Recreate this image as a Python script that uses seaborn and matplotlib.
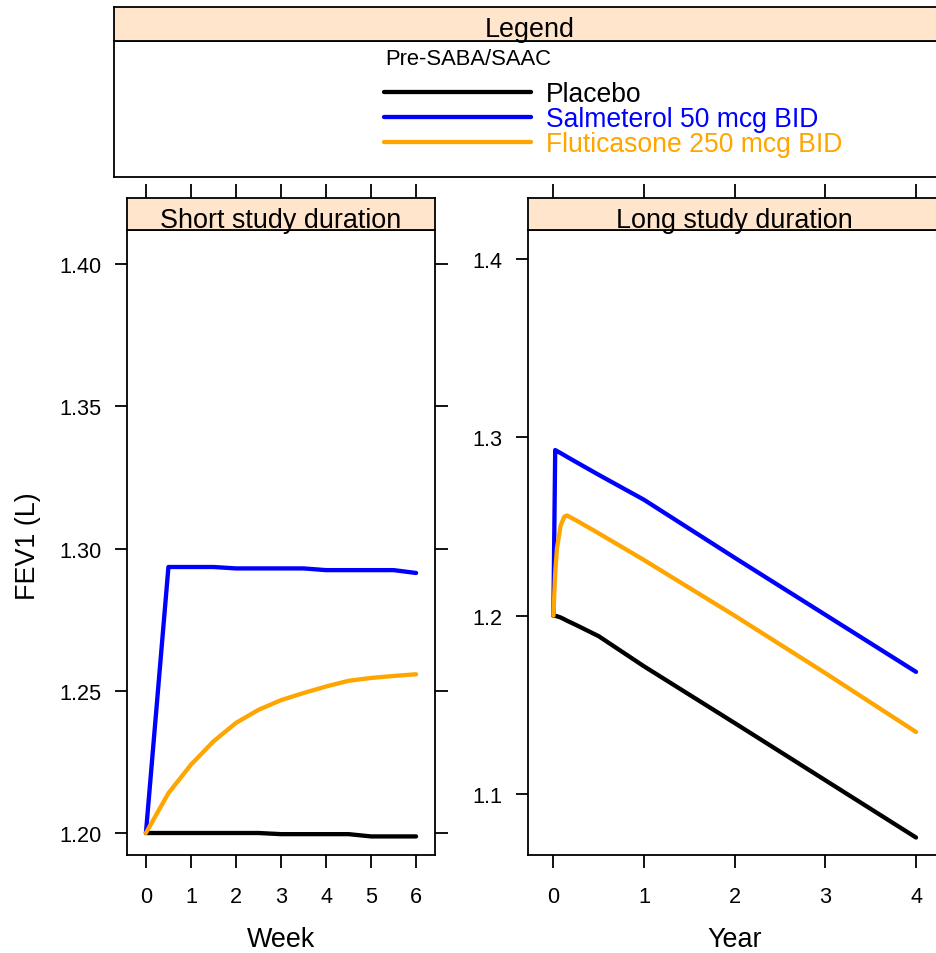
import numpy as np
import pandas as pd
import matplotlib
matplotlib.use("Agg")
import matplotlib.pyplot as plt
from matplotlib.ticker import FormatStrFormatter
import seaborn as sns

# ---------------- data ----------------
treatments = ["Placebo", "Salmeterol 50 mcg BID", "Fluticasone 250 mcg BID"]
colors = ["black", "blue", "orange"]

short_weeks = [0, 0.5, 1, 1.5, 2, 2.5, 3, 3.5, 4, 4.5, 5, 5.5, 6]
short_placebo = [1.2000, 1.2000, 1.2000, 1.2000, 1.2000, 1.2000, 1.1996,
                 1.1996, 1.1996, 1.1996, 1.1988, 1.1988, 1.1988]
short_salmeterol = [1.2000, 1.2935, 1.2935, 1.2935, 1.2930, 1.2930, 1.2930,
                    1.2930, 1.2924, 1.2924, 1.2924, 1.2924, 1.2914]
short_fluticasone = [1.2000, 1.2140, 1.2240, 1.2322, 1.2387, 1.2433, 1.2467,
                     1.2492, 1.2515, 1.2535, 1.2545, 1.2552, 1.2558]

long_years = [0, 0.02, 0.04, 0.08, 0.12, 0.15, 0.25, 0.5, 1, 2, 3, 4]
long_placebo = [1.2000, 1.1999, 1.1997, 1.1990, 1.1980, 1.1972, 1.1948,
                1.1885, 1.1716, 1.1398, 1.1077, 1.0756]
long_salmeterol = [1.2000, 1.2929, 1.2923, 1.2912, 1.2900, 1.2891, 1.2862,
                   1.2790, 1.2650, 1.2325, 1.2005, 1.1685]
long_fluticasone = [1.2000, 1.2240, 1.2380, 1.2505, 1.2555, 1.2562, 1.2535,
                    1.2462, 1.2312, 1.2000, 1.1678, 1.1348]

short_df = pd.DataFrame({
    "Week": short_weeks * 3,
    "FEV1": short_placebo + short_salmeterol + short_fluticasone,
    "Treatment": sum([[t] * len(short_weeks) for t in treatments], []),
})
long_df = pd.DataFrame({
    "Year": long_years * 3,
    "FEV1": long_placebo + long_salmeterol + long_fluticasone,
    "Treatment": sum([[t] * len(long_years) for t in treatments], []),
})
palette = dict(zip(treatments, colors))

# ---------------- style ----------------
sns.set_style("white")
plt.rcParams["font.family"] = ["Liberation Sans", "DejaVu Sans"]
plt.rcParams["text.color"] = "black"
plt.rcParams["axes.labelcolor"] = "black"
plt.rcParams["xtick.color"] = "black"
plt.rcParams["ytick.color"] = "black"
plt.rcParams["axes.edgecolor"] = "black"

W, H = 936, 954
fig = plt.figure(figsize=(W / 100, H / 100), dpi=100)


def rect(x0, y0, x1, y1):
    return [x0 / W, 1 - y1 / H, (x1 - x0) / W, (y1 - y0) / H]


STRIP = "#FFE5CC"
SPW = 1.3
BASE = 19.4
TICKFS = 15.6

ax1 = fig.add_axes(rect(127, 231, 435, 856))
s1 = fig.add_axes(rect(127, 199, 435, 231), sharex=ax1)
ax2 = fig.add_axes(rect(528, 231, 941.4, 856))
s2 = fig.add_axes(rect(528, 199, 941.4, 231), sharex=ax2)
legax = fig.add_axes(rect(114, 42, 946, 178))
legstrip = fig.add_axes(rect(114, 8, 946, 42))

sns.lineplot(data=short_df, x="Week", y="FEV1", hue="Treatment",
             hue_order=treatments, palette=palette, ax=ax1, linewidth=3.1,
             legend=False, estimator=None, sort=False)
sns.lineplot(data=long_df, x="Year", y="FEV1", hue="Treatment",
             hue_order=treatments, palette=palette, ax=ax2, linewidth=3.1,
             legend=False, estimator=None, sort=False)

# panel axes
ax1.set_xlim(-0.42, 6.42)
ax1.set_ylim(1.19227, 1.41195)
ax1.set_xticks([0, 1, 2, 3, 4, 5, 6])
ax1.set_yticks([1.20, 1.25, 1.30, 1.35, 1.40])
ax1.yaxis.set_major_formatter(FormatStrFormatter("%.2f"))

ax2.set_xlim(-0.28, 4.28)
ax2.set_ylim(1.0658, 1.4163)
ax2.set_xticks([0, 1, 2, 3, 4])
ax2.set_yticks([1.1, 1.2, 1.3, 1.4])
ax2.yaxis.set_major_formatter(FormatStrFormatter("%.1f"))

for ax in (ax1, ax2):
    for sp in ax.spines.values():
        sp.set_visible(True)
        sp.set_linewidth(SPW)
        sp.set_color("black")
    ax.tick_params(axis="both", direction="out", length=9, width=SPW,
                   labelsize=TICKFS, colors="black", labelcolor="black")
    ax.tick_params(axis="y", left=True, right=True, labelleft=True,
                   labelright=False, pad=9.4)
    ax.tick_params(axis="x", bottom=True, top=False, pad=13)
    ax.set_xlabel("")
    ax.set_ylabel("")

ax1.set_xlabel("Week", fontsize=BASE, color="black")
ax2.set_xlabel("Year", fontsize=BASE, color="black")
for ax in (ax1, ax2):
    ax.xaxis.set_label_coords(0.5, (856 - 940) / 625)
    ax.xaxis.label.set_va("center")
ax1.set_ylabel("FEV1 (L)", fontsize=BASE, color="black")
ax1.yaxis.set_label_coords((28 - 127) / 308, (856 - 546) / 625)
ax1.yaxis.label.set_va("center")

# strips with top ticks
for s, title in ((s1, "Short study duration"), (s2, "Long study duration")):
    s.set_facecolor(STRIP)
    for sp in s.spines.values():
        sp.set_visible(True)
        sp.set_linewidth(SPW)
        sp.set_color("black")
    s.set_yticks([])
    s.tick_params(axis="x", bottom=False, labelbottom=False, top=True,
                  labeltop=False, direction="out", length=10, width=SPW,
                  colors="black")
    s.text(0.5, (231 - 228.5) / 32, title, transform=s.transAxes,
           ha="center", va="baseline", fontsize=BASE, color="black")

# legend box
for a in (legax, legstrip):
    a.set_xticks([])
    a.set_yticks([])
    for sp in a.spines.values():
        sp.set_visible(True)
        sp.set_linewidth(SPW)
        sp.set_color("black")
legstrip.set_facecolor(STRIP)
legstrip.text(0.5, (42 - 37) / 34, "Legend", transform=legstrip.transAxes,
              ha="center", va="baseline", fontsize=BASE, color="black")
legax.text((385 - 114) / 832, (178 - 65) / 136, "Pre-SABA/SAAC",
           transform=legax.transAxes, ha="left", va="baseline", fontsize=15.8,
           color="black")

handles = list(ax2.get_lines())[:3]
LFS = 19.1
leg = legax.legend(handles, treatments, loc="upper left",
                   bbox_to_anchor=(384 / W, 1 - 82 / H),
                   bbox_transform=fig.transFigure, frameon=False,
                   borderpad=0, borderaxespad=0,
                   handlelength=147 / 26.5, handletextpad=15 / 26.5,
                   labelspacing=-0.03, labelcolor="linecolor",
                   prop={"size": LFS})

fig.savefig("out.png", dpi=100)
